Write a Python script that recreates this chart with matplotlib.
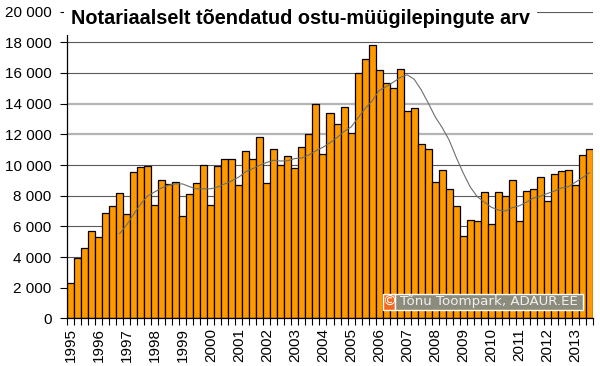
import numpy as np
import pandas as pd
import matplotlib
matplotlib.use("Agg")
import matplotlib.pyplot as plt
from matplotlib.patches import Rectangle

plt.rcParams["font.family"] = ["Liberation Sans", "DejaVu Sans"]

# quarterly number of notarised sale contracts, 1995 Q1 .. 2013 Q3
years = list(range(1995, 2014))
contracts = [
    2300, 3950, 4600, 5700,      # 1995
    5300, 6900, 7350, 8150,      # 1996
    6800, 9550, 9900, 9950,      # 1997
    7400, 9000, 8760, 8870,      # 1998
    6700, 8100, 8800, 10000,     # 1999
    7400, 9950, 10400, 10400,    # 2000
    8700, 10900, 10400, 11800,   # 2001
    8850, 11050, 10000, 10600,   # 2002
    9800, 11200, 12000, 13950,   # 2003
    10700, 13400, 12650, 13800,  # 2004
    12100, 16000, 16900, 17850,  # 2005
    16170, 15330, 15000, 16260,  # 2006
    13550, 13700, 11370, 11050,  # 2007
    8870, 9700, 8430, 7300,      # 2008
    5400, 6430, 6330, 8260,      # 2009
    6170, 8220, 7980, 9000,      # 2010
    6370, 8300, 8460, 9240,      # 2011
    7630, 9430, 9600, 9700,      # 2012
    8720, 10650, 11050,          # 2013
]
ma_window = 8  # trailing moving average, quarters

title = "Notariaalselt tõendatud ostu-müügilepingute arv"
credit = "Tõnu Toompark, ADAUR.EE"

x = np.arange(len(contracts))
trend = pd.Series(contracts).rolling(ma_window).mean()

fig = plt.figure(figsize=(6, 3.66), dpi=100)
ax = fig.add_axes([0.1117, 0.1298, 0.8766, 0.8385])

# grid lines (two of them come out lighter in the original)
for v in range(2000, 20001, 2000):
    if v in (12000, 14000):
        ax.axhline(v, color="#b4b4b4", lw=1.6, zorder=0)
    else:
        ax.axhline(v, color="#5a5a5a", lw=0.8, zorder=0)

ax.bar(x, contracts, width=1.0, color="#FF9900", edgecolor="black", lw=0.9, zorder=2)
ax.plot(x, trend, color="#6e6e6e", lw=0.8, zorder=3)

ax.set_xlim(-0.5, len(contracts) - 0.5)
ax.set_ylim(0, 20000)

for s in ["top", "right"]:
    ax.spines[s].set_visible(False)
ax.spines["left"].set_linewidth(0.9)
ax.spines["bottom"].set_linewidth(0.9)

ax.set_yticks(range(0, 20001, 2000))
ax.set_yticklabels([f"{v:,}".replace(",", " ") for v in range(0, 20001, 2000)])
ax.tick_params(axis="y", length=5, width=0.8, labelsize=11, pad=6)

ax.set_xticks(np.arange(0, len(contracts), 4))
ax.set_xticklabels([str(y) for y in years], rotation=90)
ax.set_xticks(np.arange(-0.5, len(contracts), 1), minor=True)
ax.tick_params(axis="x", which="major", length=0, labelsize=11, pad=7)
ax.tick_params(axis="x", which="minor", length=5, width=0.8)

ax.text(0.008, 0.978, title, transform=ax.transAxes, fontsize=14.3, fontweight="bold",
        ha="left", va="center", zorder=5,
        bbox=dict(facecolor="white", edgecolor="none", pad=5))

# copyright badge
W, H = 600, 366
fig.add_artist(Rectangle((383 / W, (H - 310) / H), 12 / W, 16 / H,
                         transform=fig.transFigure, facecolor="#f26a1f",
                         edgecolor="white", lw=1, zorder=10))
fig.add_artist(Rectangle((395 / W, (H - 310) / H), 188 / W, 16 / H,
                         transform=fig.transFigure, facecolor="#8c8c7c",
                         edgecolor="white", lw=1, zorder=10))
fig.text(389 / W, (H - 302) / H, "©", color="white", fontsize=10,
         family="DejaVu Sans", ha="center", va="center", zorder=11)
fig.text(489 / W, (H - 302) / H, credit, color="#f0f0f0", fontsize=9.6,
         family="DejaVu Sans", ha="center", va="center", zorder=11)

fig.savefig("out.png", dpi=100)
